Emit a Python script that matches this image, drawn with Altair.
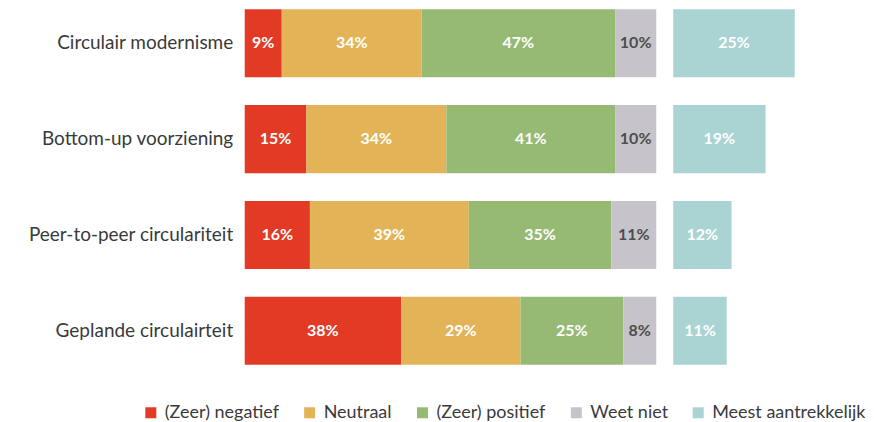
import altair as alt
import pandas as pd

categories = ["Circulair modernisme", "Bottom-up voorziening",
              "Peer-to-peer circulariteit", "Geplande circulairteit"]
responses = ["(Zeer) negatief", "Neutraal", "(Zeer) positief", "Weet niet"]
negatief = [9, 15, 16, 38]
neutraal = [34, 34, 39, 29]
positief = [47, 41, 35, 25]
weet_niet = [10, 10, 11, 8]
aantrekkelijk_label = "Meest aantrekkelijk"
aantrekkelijk = [25, 19, 12, 11]

legend_domain = responses + [aantrekkelijk_label]
colors = ["#E23A25", "#E3B457", "#96BA74", "#C6C4CA", "#A9D4D3"]

FONT = "Lato"
TEXT = "#3a3a3a"

rows = []
for i, cat in enumerate(categories):
    for j, (resp, series) in enumerate(zip(responses, [negatief, neutraal, positief, weet_niet])):
        rows.append({"categorie": cat, "respons": resp, "waarde": series[i],
                     "volgorde": j, "label": f"{series[i]}%"})
df = pd.DataFrame(rows)

df2 = pd.DataFrame({"categorie": categories, "waarde": aantrekkelijk,
                    "respons": aantrekkelijk_label,
                    "label": [f"{v}%" for v in aantrekkelijk]})

color_scale = alt.Scale(domain=legend_domain, range=colors)
y_scale = alt.Scale(paddingInner=0.29, paddingOuter=0.01)

legend = alt.Legend(title=None, orient="none", direction="horizontal",
                    legendX=-103, legendY=396, symbolType="square",
                    symbolSize=121, symbolStrokeWidth=0, labelFont=FONT,
                    labelFontSize=18, labelColor=TEXT, columnPadding=21,
                    labelOffset=5, columns=5, labelLimit=300, padding=0)

base = alt.Chart(df).transform_stack(
    stack="waarde", groupby=["categorie"], as_=["x0", "x1"],
    offset="normalize", sort=[alt.SortField("volgorde")]
)

bars = base.mark_bar().encode(
    y=alt.Y("categorie:N", sort=categories, scale=y_scale,
            axis=alt.Axis(title=None, ticks=False, domain=False, labelFont=FONT,
                          labelFontSize=19, labelColor=TEXT, labelPadding=12,
                          labelLimit=400)),
    x=alt.X("x0:Q", axis=None, scale=alt.Scale(domain=[0, 1])),
    x2="x1:Q",
    color=alt.Color("respons:N", scale=color_scale, legend=legend),
)

texts = base.transform_calculate(mid="(datum.x0 + datum.x1) / 2").mark_text(
    font=FONT, fontWeight="bold", fontSize=16
).encode(
    y=alt.Y("categorie:N", sort=categories),
    x=alt.X("mid:Q"),
    text="label:N",
    color=alt.condition(alt.datum.respons == "Weet niet",
                        alt.value("#4d4d4d"), alt.value("white")),
)

left = alt.layer(bars, texts).properties(width=412, height=358)

base2 = alt.Chart(df2)
bars2 = base2.mark_bar().encode(
    y=alt.Y("categorie:N", sort=categories, scale=y_scale, axis=None),
    x=alt.X("waarde:Q", axis=None, scale=alt.Scale(domain=[0, 30])),
    color=alt.Color("respons:N", scale=color_scale, legend=legend),
)
texts2 = base2.transform_calculate(mid="datum.waarde / 2").mark_text(
    font=FONT, fontWeight="bold", fontSize=16, color="white"
).encode(
    y=alt.Y("categorie:N", sort=categories),
    x=alt.X("mid:Q"),
    text="label:N",
)
right = alt.layer(bars2, texts2).properties(width=146, height=358)

chart = alt.hconcat(left, right, spacing=17).resolve_scale(
    color="shared"
).properties(
    padding={"left": 19, "top": 0, "right": 0, "bottom": 0}
).configure_view(stroke=None)

chart.save("out.html", embed_options={"renderer": "svg", "actions": False})
